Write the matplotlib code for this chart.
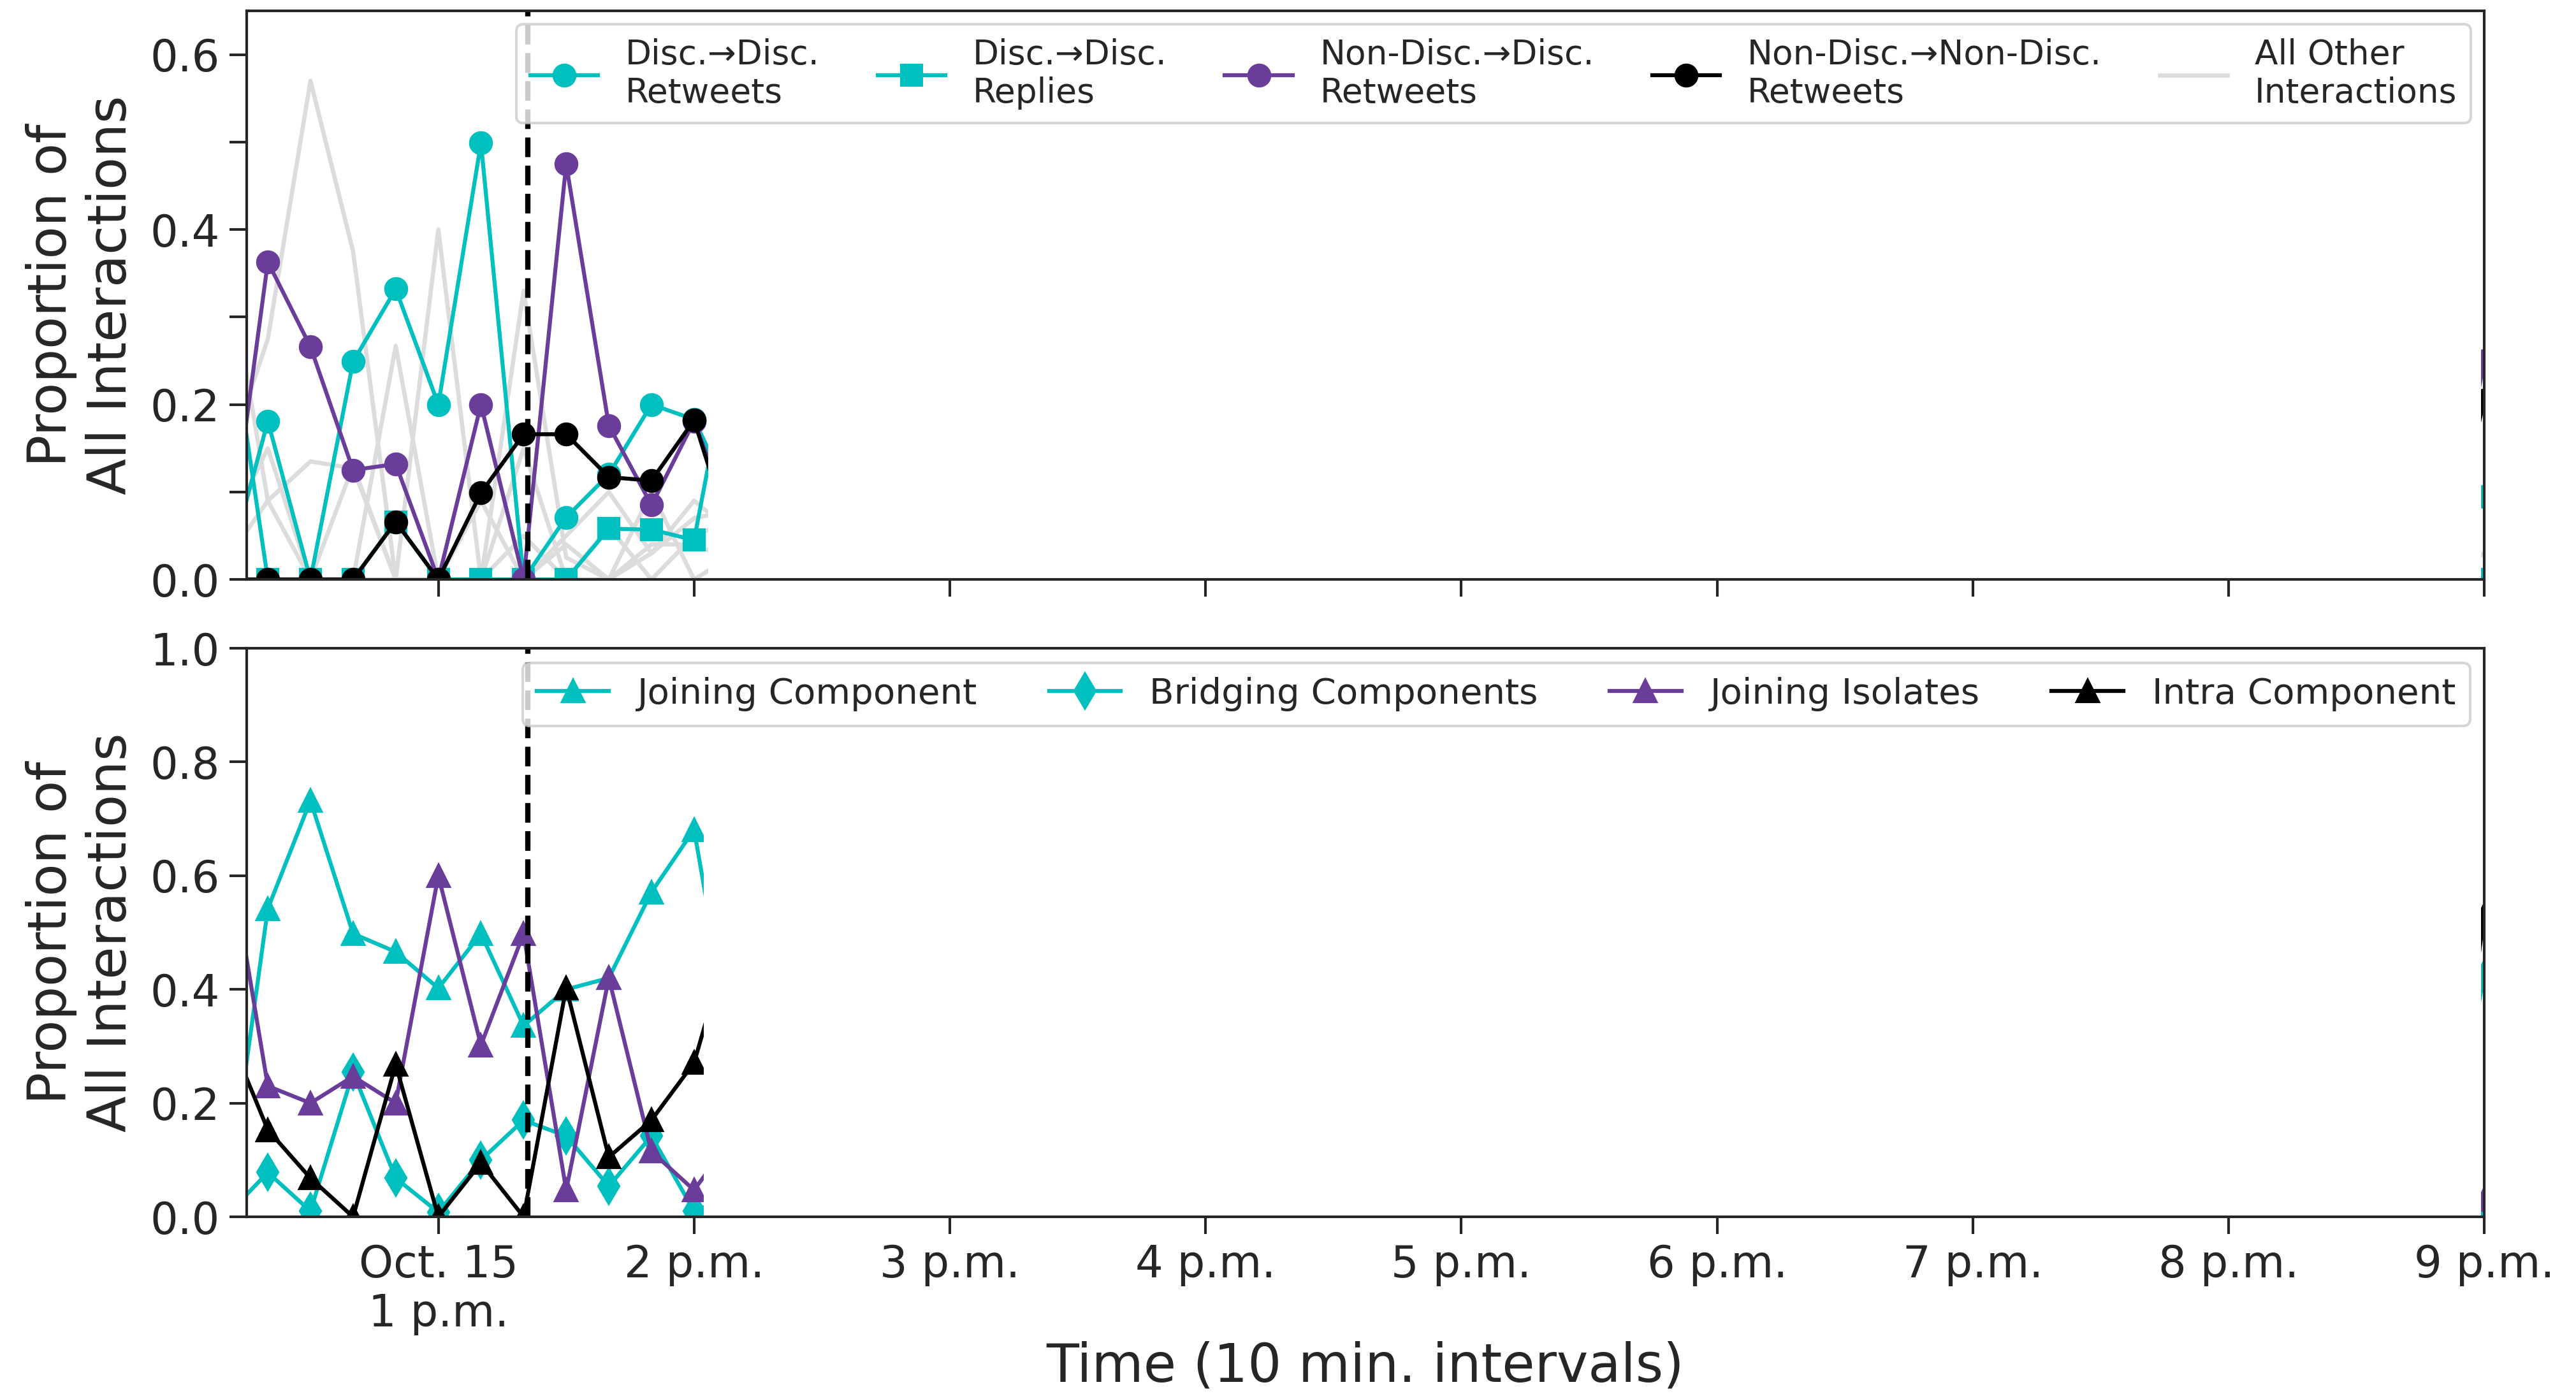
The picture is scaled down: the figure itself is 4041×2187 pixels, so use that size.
import pandas as pd
import matplotlib
matplotlib.use("Agg")
import matplotlib.pyplot as plt

# ===== Style =====
plt.rcParams["font.family"] = ["DejaVu Sans"]
plt.rcParams["text.color"] = ".15"
plt.rcParams["axes.labelcolor"] = ".15"
plt.rcParams["axes.edgecolor"] = ".15"
plt.rcParams["xtick.color"] = ".15"
plt.rcParams["ytick.color"] = ".15"

TEAL = "#00BFBF"
PURPLE = "#6A3D9A"
GRAY = "#DCDCDC"

# ===== Data (10 min. intervals, Oct. 15) =====
times = ["12:10", "12:20", "12:30", "12:40", "12:50", "13:00", "13:10", "13:20",
         "13:30", "13:40", "13:50", "14:00", "14:10", "20:50", "21:00"]

disc_rt = [0.0, 0.181, 0.0, 0.249, 0.332, 0.2, 0.499, 0.0, 0.071, 0.12, 0.2, 0.183, 0.08, 0.0, 0.095]
disc_rep = [0.33, 0.0, 0.0, 0.0, 0.066, 0.0, 0.0, 0.0, 0.0, 0.058, 0.057, 0.045, 0.30, 0.0, 0.0]
nd_disc_rt = [0.0, 0.363, 0.266, 0.125, 0.132, 0.0, 0.2, 0.0, 0.475, 0.176, 0.085, 0.181, 0.05, 0.0, 0.25]
nd_nd_rt = [0.0, 0.0, 0.0, 0.0, 0.066, 0.0, 0.099, 0.166, 0.166, 0.117, 0.113, 0.182, 0.028, 0.0, 0.205]

other = [
    [0.38, 0.09, 0.0, 0.13, 0.0, 0.40, 0.0, 0.33, 0.025, 0.0, 0.03, 0.09, 0.05, 0.0, 0.03],
    [0.13, 0.275, 0.57, 0.375, 0.0, 0.0, 0.09, 0.0, 0.04, 0.0, 0.10, 0.0, 0.03, 0.0, 0.01],
    [0.02, 0.09, 0.135, 0.127, 0.0, 0.0, 0.0, 0.05, 0.0, 0.06, 0.0, 0.05, 0.07, 0.0, 0.0],
    [0.0, 0.0, 0.0, 0.0, 0.267, 0.0, 0.0, 0.0, 0.05, 0.10, 0.03, 0.07, 0.08, 0.0, 0.0],
    [0.05, 0.15, 0.0, 0.0, 0.0, 0.0, 0.0, 0.15, 0.0, 0.0, 0.04, 0.04, 0.02, 0.0, 0.0],
]

join_comp = [0.0, 0.542, 0.732, 0.498, 0.466, 0.402, 0.498, 0.336, 0.40, 0.42, 0.571, 0.681, 0.25, 0.0, 0.43]
bridging = [0.0, 0.078, 0.01, 0.254, 0.068, 0.008, 0.10, 0.17, 0.142, 0.054, 0.142, 0.01, 0.04, 0.0, 0.0]
join_iso = [0.68, 0.23, 0.2, 0.247, 0.2, 0.6, 0.302, 0.498, 0.047, 0.42, 0.115, 0.047, 0.15, 0.0, 0.03]
intra = [0.335, 0.153, 0.068, 0.0, 0.268, 0.0, 0.095, 0.0, 0.403, 0.105, 0.17, 0.271, 0.53, 0.0, 0.53]

event_time = "13:21"
hour_ticks = ["13:00", "14:00", "15:00", "16:00", "17:00", "18:00", "19:00", "20:00", "21:00"]
hour_labels = ["Oct. 15\n1 p.m.", "2 p.m.", "3 p.m.", "4 p.m.", "5 p.m.", "6 p.m.",
               "7 p.m.", "8 p.m.", "9 p.m."]


def ts(t):
    return pd.Timestamp("2018-10-15 " + t)


x = [ts(t) for t in times]

# ===== Plot =====
fig, (ax1, ax2) = plt.subplots(2, 1, figsize=(13.47, 7.29), dpi=300, sharex=True)
fig.subplots_adjust(left=0.0957, right=0.9644, top=0.9922, bottom=0.1271, hspace=0.121)

lw = 1.5
ms = 8

for i, g in enumerate(other):
    ax1.plot(x, g, color=GRAY, linewidth=1.6, zorder=1.5,
             label="All Other\nInteractions" if i == 0 else "_nolegend_")
h1, = ax1.plot(x, disc_rt, color=TEAL, marker="o", ms=ms, lw=lw, label="Disc.\u2192Disc.\nRetweets")
h2, = ax1.plot(x, disc_rep, color=TEAL, marker="s", ms=ms - 0.5, lw=lw, label="Disc.\u2192Disc.\nReplies")
h3, = ax1.plot(x, nd_disc_rt, color=PURPLE, marker="o", ms=ms, lw=lw, label="Non-Disc.\u2192Disc.\nRetweets")
h4, = ax1.plot(x, nd_nd_rt, color="black", marker="o", ms=ms, lw=lw, label="Non-Disc.\u2192Non-Disc.\nRetweets")

ax2.plot(x, join_comp, color=TEAL, marker="^", ms=ms, lw=lw, label="Joining Component")
ax2.plot(x, bridging, color=TEAL, marker="d", ms=ms + 1, lw=lw, label="Bridging Components")
ax2.plot(x, join_iso, color=PURPLE, marker="^", ms=ms, lw=lw, label="Joining Isolates")
ax2.plot(x, intra, color="black", marker="^", ms=ms, lw=lw, label="Intra Component")

# blank stretch of the recording
ax1.axvspan(ts("14:03:15"), ts("20:59:15"), facecolor="white", edgecolor="none", zorder=3)
ax2.axvspan(ts("14:02:18"), ts("20:59:15"), facecolor="white", edgecolor="none", zorder=3)

for ax in (ax1, ax2):
    ax.axvline(ts(event_time), color="black", linestyle="--", linewidth=2, zorder=2.6)
    ax.set_xlim(ts("12:15"), ts("21:00"))
    for sp in ax.spines.values():
        sp.set_zorder(4)
        sp.set_linewidth(1.0)
    ax.tick_params(axis="both", direction="out", length=6.5, width=1.0, labelsize=16.5)
    ax.set_ylabel("Proportion of\nAll Interactions", fontsize=20, labelpad=5)

ax1.set_ylim(0, 0.65)
ax1.set_yticks([0.0, 0.1, 0.2, 0.3, 0.4, 0.5, 0.6])
ax1.set_yticklabels(["0.0", "", "0.2", "", "0.4", "", "0.6"])
ax2.set_ylim(0, 1.0)
ax2.set_yticks([0.0, 0.2, 0.4, 0.6, 0.8, 1.0])

ax2.set_xticks([ts(t) for t in hour_ticks])
ax2.set_xticklabels(hour_labels)
ax2.set_xlabel("Time (10 min. intervals)", fontsize=20, labelpad=2)

leg1 = ax1.legend(handles=[h1, h2, h3, h4] + [ax1.lines[0]], loc="upper right", ncol=5,
                  fontsize=12.8, borderaxespad=0.4, columnspacing=1.7)
leg1.set_zorder(5)
leg2 = ax2.legend(loc="upper right", ncol=4, fontsize=13.5, borderaxespad=0.4, columnspacing=2.0)
leg2.set_zorder(5)

fig.savefig("out.png", dpi=300)
